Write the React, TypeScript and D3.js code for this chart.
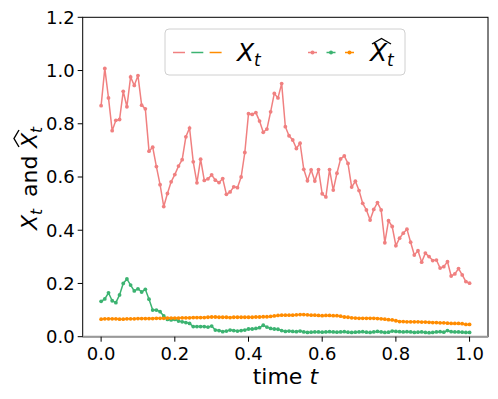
import React from "react";
import * as d3 from "d3";

const W = 498;
const H = 399;

const times: number[] = d3.range(101).map((i) => i / 100);

const redHat: number[] = [
  0.868, 1.008, 0.897, 0.774, 0.813, 0.816, 0.922, 0.864, 0.976, 0.944,
  0.981, 0.870, 0.856, 0.697, 0.712, 0.639, 0.571, 0.489, 0.538, 0.582,
  0.609, 0.641, 0.665, 0.751, 0.784, 0.657, 0.578, 0.667, 0.587, 0.593,
  0.608, 0.588, 0.579, 0.594, 0.535, 0.544, 0.563, 0.560, 0.600, 0.692,
  0.838, 0.835, 0.842, 0.810, 0.768, 0.780, 0.845, 0.914, 0.897, 0.951,
  0.789, 0.755, 0.739, 0.707, 0.727, 0.629, 0.586, 0.627, 0.585, 0.628,
  0.537, 0.525, 0.628, 0.551, 0.614, 0.668, 0.679, 0.651, 0.562, 0.584,
  0.549, 0.501, 0.476, 0.438, 0.478, 0.504, 0.476, 0.353, 0.436, 0.414,
  0.342, 0.370, 0.389, 0.404, 0.355, 0.307, 0.323, 0.280, 0.314, 0.301,
  0.286, 0.288, 0.258, 0.263, 0.282, 0.228, 0.236, 0.256, 0.232, 0.207,
  0.201,
];

const greenHat: number[] = [
  0.133, 0.142, 0.165, 0.135, 0.128, 0.157, 0.200, 0.217, 0.194, 0.172,
  0.180, 0.168, 0.178, 0.141, 0.100, 0.100, 0.094, 0.078, 0.065, 0.063,
  0.065, 0.059, 0.056, 0.053, 0.050, 0.038, 0.038, 0.038, 0.038, 0.036,
  0.040, 0.025, 0.023, 0.019, 0.021, 0.025, 0.023, 0.021, 0.023, 0.025,
  0.029, 0.029, 0.031, 0.034, 0.043, 0.036, 0.031, 0.029, 0.028, 0.023,
  0.020, 0.021, 0.020, 0.019, 0.021, 0.018, 0.016, 0.017, 0.018, 0.018,
  0.017, 0.018, 0.019, 0.018, 0.017, 0.018, 0.019, 0.017, 0.016, 0.017,
  0.018, 0.019, 0.017, 0.016, 0.018, 0.020, 0.018, 0.016, 0.017, 0.021,
  0.020, 0.019, 0.018, 0.019, 0.018, 0.016, 0.017, 0.018, 0.016, 0.015,
  0.016, 0.018, 0.019, 0.017, 0.023, 0.019, 0.018, 0.018, 0.017, 0.016,
  0.016,
];

const orangeHat: number[] = [
  0.066, 0.067, 0.067, 0.067, 0.067, 0.066, 0.066, 0.067, 0.067, 0.067,
  0.068, 0.068, 0.068, 0.068, 0.068, 0.069, 0.069, 0.069, 0.070, 0.070,
  0.070, 0.070, 0.071, 0.071, 0.071, 0.072, 0.072, 0.072, 0.072, 0.073,
  0.074, 0.074, 0.073, 0.073, 0.073, 0.072, 0.073, 0.073, 0.073, 0.073,
  0.073, 0.073, 0.074, 0.074, 0.075, 0.075, 0.076, 0.078, 0.080, 0.081,
  0.081, 0.081, 0.081, 0.082, 0.083, 0.083, 0.082, 0.081, 0.081, 0.080,
  0.079, 0.080, 0.080, 0.079, 0.079, 0.077, 0.074, 0.073, 0.071, 0.070,
  0.069, 0.069, 0.069, 0.069, 0.069, 0.068, 0.067, 0.066, 0.064, 0.063,
  0.060, 0.057, 0.057, 0.056, 0.056, 0.056, 0.056, 0.055, 0.055, 0.054,
  0.053, 0.053, 0.052, 0.052, 0.051, 0.050, 0.050, 0.050, 0.049, 0.046,
  0.046,
];

const xTicks: number[] = [0, 0.2, 0.4, 0.6, 0.8, 1.0];
const yTicks: number[] = [0, 0.2, 0.4, 0.6, 0.8, 1.0, 1.2];

const RED = "#F08080";
const GREEN = "#3CB371";
const ORANGE = "#FF8C00";

const series = [
  { name: "red", values: redHat, color: RED },
  { name: "green", values: greenHat, color: GREEN },
  { name: "orange", values: orangeHat, color: ORANGE },
];

const FONT = "'DejaVu Sans', sans-serif";

function Hat({ x0, x1, base, h }: { x0: number; x1: number; base: number; h: number }) {
  const m = (x0 + x1) / 2;
  return (
    <path
      d={`M${x0},${base} L${m},${base - h} L${x1},${base}`}
      fill="none"
      stroke="#000"
      strokeWidth={1.4}
      strokeLinejoin="miter"
    />
  );
}

export default function App() {
  const left = 82.7;
  const right = 488;
  const top = 17.3;
  const bottom = 336.7;

  const x = d3.scaleLinear().domain([-0.05, 1.05]).range([left, right]);
  const y = d3.scaleLinear().domain([0, 1.2]).range([bottom, top]);

  const line = d3
    .line<number>()
    .x((_, i) => x(times[i]))
    .y((d) => y(d));

  const legendColors = [RED, GREEN, ORANGE];

  return (
    <svg
      width={W}
      height={H}
      style={{ position: "absolute", left: 0, top: 0, background: "#fff" }}
      fontFamily={FONT}
    >
      <rect x={0} y={0} width={W} height={H} fill="#fff" />
      {/* series */}
      {series.map((s) => (
        <g key={s.name}>
          <path d={line(s.values) || ""} fill="none" stroke={s.color} strokeWidth={1.5} />
          {s.values.map((v, i) => (
            <circle key={i} cx={x(times[i])} cy={y(v)} r={1.9} fill={s.color} />
          ))}
        </g>
      ))}
      {/* spines */}
      <rect x={left} y={top} width={right - left} height={bottom - top} fill="none" stroke="#000" strokeWidth={1} />
      <line x1={left} x2={right} y1={bottom} y2={bottom} stroke="#999" strokeWidth={2} />
      {/* x ticks */}
      {xTicks.map((t) => (
        <g key={t} transform={`translate(${x(t)},${bottom})`}>
          <line y1={0} y2={5} stroke="#000" strokeWidth={1} />
          <text y={23} textAnchor="middle" fontSize={18} fill="#000">
            {d3.format(".1f")(t)}
          </text>
        </g>
      ))}
      {/* y ticks */}
      {yTicks.map((t) => (
        <g key={t} transform={`translate(${left},${y(t)})`}>
          <line x1={-5} x2={0} stroke="#000" strokeWidth={1} />
          <text x={-8} dy="0.36em" textAnchor="end" fontSize={18} fill="#000">
            {d3.format(".1f")(t)}
          </text>
        </g>
      ))}
      {/* x label */}
      <text x={(left + right) / 2} y={384} textAnchor="middle" fontSize={22} fill="#000">
        time <tspan fontStyle="italic">t</tspan>
      </text>
      {/* y label (rotated) */}
      <g transform="translate(37,230) rotate(-90)" fill="#000">
        <text x={0} y={0} fontSize={22} fontStyle="italic">X</text>
        <text x={15} y={5} fontSize={15.5} fontStyle="italic">t</text>
        <text x={33} y={0} fontSize={22}>and</text>
        <text x={82} y={0} fontSize={22} fontStyle="italic">X</text>
        <text x={97} y={5} fontSize={15.5} fontStyle="italic">t</text>
        <Hat x0={83} x1={100} base={-18} h={5} />
      </g>
      {/* legend */}
      <g>
        <rect x={165} y={29} width={240} height={46} rx={4} fill="#fff" fillOpacity={0.8} stroke="#d0d0d0" strokeWidth={1} />
        {legendColors.map((c, i) => (
          <line key={c} x1={173 + i * 18.3} x2={185 + i * 18.3} y1={52.5} y2={52.5} stroke={c} strokeWidth={1.5} />
        ))}
        <text x={237} y={61} fontSize={25} fontStyle="italic" fill="#000">X</text>
        <text x={254} y={66} fontSize={17} fontStyle="italic" fill="#000">t</text>
        {legendColors.map((c, i) => (
          <g key={"h" + c}>
            <line x1={308 + i * 18.5} x2={317 + i * 18.5} y1={52.5} y2={52.5} stroke={c} strokeWidth={1.5} />
            <circle cx={312.5 + i * 18.5} cy={52.5} r={2} fill={c} />
          </g>
        ))}
        <text x={370} y={61} fontSize={25} fontStyle="italic" fill="#000">X</text>
        <text x={387} y={66} fontSize={17} fontStyle="italic" fill="#000">t</text>
        <Hat x0={372} x1={391} base={44} h={5.5} />
      </g>
    </svg>
  );
}
